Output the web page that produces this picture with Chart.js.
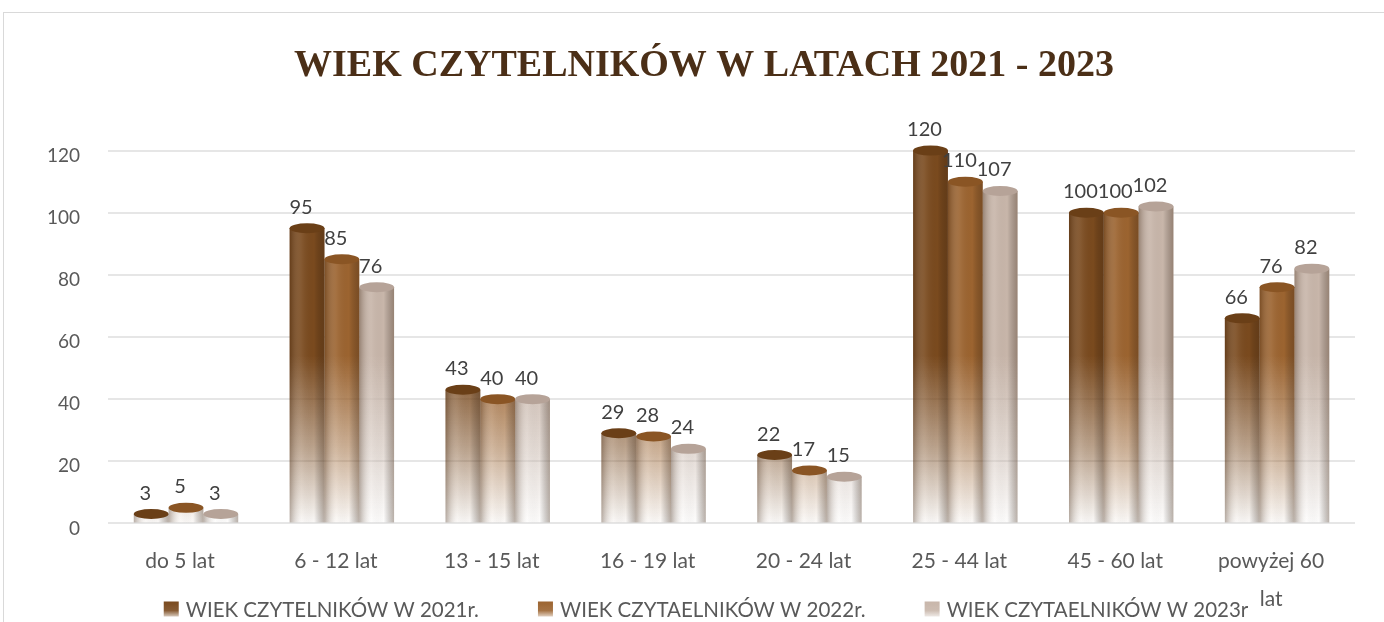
<!DOCTYPE html>
<html lang="pl">

<head>
    <meta charset="UTF-8">
    <title>Wiek czytelników</title>
    <style>
        html, body { margin: 0; padding: 0; background: #fff; }
        #frame {
            position: absolute; left: 3px; top: 12px; width: 1400px; height: 640px;
            border: 1px solid #d9d9d9; box-sizing: border-box;
        }
        #wrap { position: absolute; left: 0; top: 0; width: 1384px; height: 622px; }
    </style>
</head>

<body>
    <div id="frame"></div>
    <div id="wrap"><canvas id="chartContainer" width="1384" height="622"></canvas></div>

    <script src="https://cdn.jsdelivr.net/npm/chart.js"></script>

    <script>
        // dane z wykresu
        const categories = ['do 5 lat', '6 - 12 lat', '13 - 15 lat', '16 - 19 lat', '20 - 24 lat', '25 - 44 lat', '45 - 60 lat', ['powyżej 60', 'lat']];
        const values2021 = [3, 95, 43, 29, 22, 120, 100, 66];
        const values2022 = [5, 85, 40, 28, 17, 110, 100, 76];
        const values2023 = [3, 76, 40, 24, 15, 107, 102, 82];
        const seriesNames = ['WIEK CZYTELNIKÓW W 2021r.', 'WIEK CZYTAELNIKÓW W 2022r.', 'WIEK CZYTAELNIKÓW W 2023r'];
        const yTicks = [0, 20, 40, 60, 80, 100, 120];

        const baseColors = [[122, 74, 30], [156, 100, 48], [200, 182, 170]];
        const capColors = ['#6a3f17', '#8a5524', '#b6a398'];
        const FONT = 'Lato, "Open Sans", sans-serif';

        const rgba = (c, a) => 'rgba(' + c.join(',') + ',' + a + ')';

        function fade(i) {
            return function (ctx) {
                const area = ctx.chart.chartArea;
                const c = baseColors[i];
                if (!area) return rgba(c, 1);
                const g = ctx.chart.ctx.createLinearGradient(0, area.top, 0, area.bottom);
                g.addColorStop(0, rgba(c, 1));
                g.addColorStop(0.55, rgba(c, 1));
                g.addColorStop(0.8, rgba(c, 0.5));
                g.addColorStop(1, rgba(c, 0.03));
                return g;
            };
        }

        // walec: cieniowanie boków, górna elipsa i etykiety wartości
        const cylinderPlugin = {
            id: 'cylinder',
            afterLayout(chart) {
                // tytuł w oryginale jest lekko przesunięty w prawo
                chart.titleBlock.left += 17;
                chart.titleBlock.right += 17;
            },
            afterDatasetsDraw(chart) {
                const ctx = chart.ctx;
                chart.data.datasets.forEach((ds, i) => {
                    const meta = chart.getDatasetMeta(i);
                    meta.data.forEach((bar, j) => {
                        const w = bar.width;
                        const left = bar.x - w / 2;
                        const top = bar.y;
                        const bottom = bar.base;
                        ctx.save();
                        const sh = ctx.createLinearGradient(left, 0, left + w, 0);
                        sh.addColorStop(0, 'rgba(60,35,15,0.35)');
                        sh.addColorStop(0.35, 'rgba(255,255,255,0.08)');
                        sh.addColorStop(0.7, 'rgba(0,0,0,0)');
                        sh.addColorStop(1, 'rgba(60,35,15,0.35)');
                        ctx.fillStyle = sh;
                        ctx.fillRect(left, top, w, bottom - top);
                        ctx.beginPath();
                        ctx.ellipse(bar.x, top, w / 2, 5, 0, 0, Math.PI * 2);
                        ctx.fillStyle = capColors[i];
                        ctx.fill();
                        ctx.fillStyle = '#404040';
                        ctx.font = '20px ' + FONT;
                        ctx.textAlign = 'center';
                        ctx.textBaseline = 'middle';
                        ctx.fillText(ds.data[j], bar.x - 6, top - 21);
                        ctx.restore();
                    });
                });
            }
        };

        // legenda pod wykresem, rysowana ręcznie (szerokie odstępy jak w oryginale)
        const legendPlugin = {
            id: 'bottomLegend',
            afterDraw(chart) {
                const ctx = chart.ctx;
                ctx.save();
                ctx.font = '20.5px ' + FONT;
                const box = 15, gapText = 7, gapItem = 59, centerX = 706, y = 609;
                const widths = seriesNames.map(n => box + gapText + ctx.measureText(n).width);
                const total = widths.reduce((a, b) => a + b, 0) + gapItem * (widths.length - 1);
                let x = centerX - total / 2;
                seriesNames.forEach((n, i) => {
                    const g = ctx.createLinearGradient(0, y - box / 2, 0, y + box / 2);
                    g.addColorStop(0, rgba(baseColors[i], 1));
                    g.addColorStop(0.6, rgba(baseColors[i], 0.9));
                    g.addColorStop(1, rgba(baseColors[i], 0.3));
                    ctx.fillStyle = g;
                    ctx.fillRect(x, y - box / 2, box, box);
                    ctx.fillStyle = '#595959';
                    ctx.textAlign = 'left';
                    ctx.textBaseline = 'middle';
                    ctx.fillText(n, x + box + gapText, y + 1);
                    x += widths[i] + gapItem;
                });
                ctx.restore();
            }
        };

        const ctx = document.getElementById('chartContainer').getContext('2d');
        new Chart(ctx, {
            type: 'bar',
            data: {
                labels: categories,
                datasets: [
                    { label: seriesNames[0], data: values2021, backgroundColor: fade(0) },
                    { label: seriesNames[1], data: values2022, backgroundColor: fade(1) },
                    { label: seriesNames[2], data: values2023, backgroundColor: fade(2) }
                ]
            },
            plugins: [cylinderPlugin, legendPlugin],
            options: {
                responsive: false,
                animation: false,
                layout: { padding: { left: 19, right: 29, top: 0, bottom: -15 } },
                datasets: { bar: { barPercentage: 1, categoryPercentage: 0.67 } },
                scales: {
                    x: {
                        grid: { display: false, drawTicks: false },
                        border: { display: false },
                        ticks: { color: '#595959', padding: 19, labelOffset: -6, maxRotation: 0, font: { size: 21, family: FONT, lineHeight: 1.8 } }
                    },
                    y: {
                        min: 0, max: 120,
                        afterBuildTicks: axis => { axis.ticks = yTicks.map(v => ({ value: v })); },
                        grid: { color: '#e6e6e6', lineWidth: 2, drawTicks: false },
                        border: { display: false },
                        ticks: { color: '#595959', padding: 28, labelOffset: 5, font: { size: 19, family: FONT } }
                    }
                },
                plugins: {
                    title: {
                        display: true,
                        text: 'WIEK CZYTELNIKÓW W LATACH 2021 - 2023',
                        color: '#4b2f17',
                        font: { size: 38, weight: 'bold', family: '"Liberation Serif", "DejaVu Serif", serif' },
                        padding: { top: 43, bottom: 62 }
                    },
                    legend: { display: false },
                    tooltip: { enabled: false }
                }
            }
        });
    </script>
</body>

</html>
